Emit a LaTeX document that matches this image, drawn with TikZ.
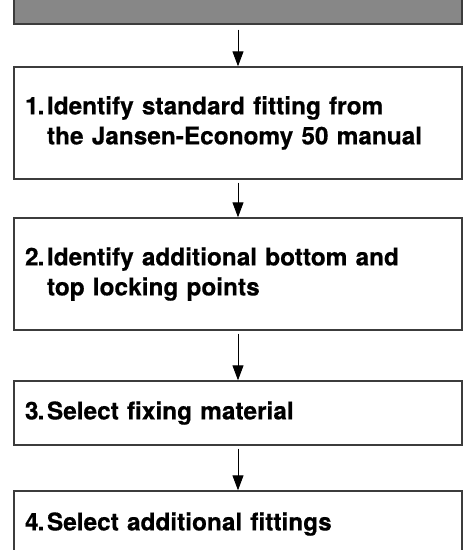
\documentclass[tikz,border=0pt]{standalone}
\usepackage{fontspec}
\setmainfont{TeX Gyre Heros}[BoldFeatures={FakeBold=0.4}]
\usetikzlibrary{arrows.meta}
\definecolor{bandgray}{HTML}{878787}
\definecolor{edgegray}{HTML}{3C3C3C}
\tikzset{
  stepbox/.style={draw=edgegray, line width=1.4pt, fill=white, minimum width=448pt,
    text width=426pt, inner xsep=11pt, inner ysep=0pt, align=left,
    font=\fontsize{24.4pt}{30pt}\selectfont\bfseries},
  flowarrow/.style={draw=black, line width=0.9pt, -{Triangle[width=11pt,length=15pt]}},
}
\newcommand{\stepnum}[1]{\makebox[22pt][l]{#1\kern-1pt.}}
\begin{document}
\begin{tikzpicture}[x=1pt,y=-1pt]
\useasboundingbox (0,0) rectangle (469,550);
\begin{scope}
\clip (0,0) rectangle (469,550);
\node[draw=edgegray, line width=1.4pt, fill=bandgray, minimum width=448pt, minimum height=36pt, inner sep=0pt] (band) at (238,6) {};
\node[stepbox, minimum height=112pt] (s1) at (238,123)
  {\stepnum{1}Identify standard fitting from\\\hspace*{22pt}the Jansen-Economy 50 manual};
\node[stepbox, minimum height=112pt] (s2) at (238,274)
  {\stepnum{2}Identify additional bottom and\\\hspace*{22pt}top locking points};
\node[stepbox, minimum height=64pt] (s3) at (238,413)
  {\stepnum{3}Select fixing material};
\node[stepbox, minimum height=66pt] (s4) at (238,524)
  {\stepnum{4}Select additional fittings};
\end{scope}
\draw[flowarrow] ([yshift=-5pt]band.south) -- (s1.north);
\draw[flowarrow] ([yshift=-3pt]s1.south) -- (s2.north);
\draw[flowarrow] ([yshift=-3pt]s2.south) -- (s3.north);
\draw[flowarrow] ([yshift=-3pt]s3.south) -- (s4.north);
\end{tikzpicture}
\end{document}
